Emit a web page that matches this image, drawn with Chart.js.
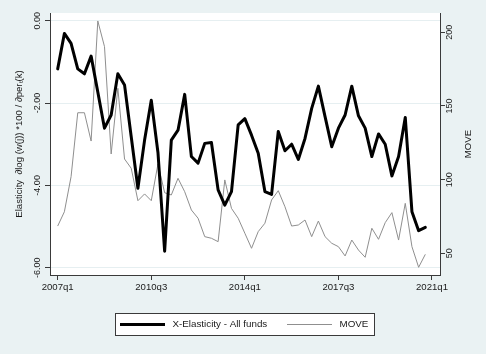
<!DOCTYPE html>
<html>
<head>
<meta charset="utf-8">
<script src="https://cdn.jsdelivr.net/npm/chart.js@4.4.0/dist/chart.umd.min.js"></script>
<style>
  body { margin: 0; background: #eaf2f3; }
  canvas { display: block; }
</style>
</head>
<body>
<canvas id="chart" width="486" height="354"></canvas>
<script>
// quarters, 2007q1 .. 2021q1 (last one is only an axis label)
const quarters = [
  '2007q1','2007q2','2007q3','2007q4','2008q1','2008q2','2008q3','2008q4',
  '2009q1','2009q2','2009q3','2009q4','2010q1','2010q2','2010q3','2010q4',
  '2011q1','2011q2','2011q3','2011q4','2012q1','2012q2','2012q3','2012q4',
  '2013q1','2013q2','2013q3','2013q4','2014q1','2014q2','2014q3','2014q4',
  '2015q1','2015q2','2015q3','2015q4','2016q1','2016q2','2016q3','2016q4',
  '2017q1','2017q2','2017q3','2017q4','2018q1','2018q2','2018q3','2018q4',
  '2019q1','2019q2','2019q3','2019q4','2020q1','2020q2','2020q3','2020q4',
  '2021q1'
];

const elasticity = [
  -1.17, -0.31, -0.55, -1.17, -1.29, -0.86, -1.73, -2.61, -2.29, -1.29,
  -1.56, -2.82, -4.07, -2.90, -1.93, -3.20, -5.60, -2.90, -2.66, -1.79,
  -3.30, -3.46, -2.98, -2.96, -4.11, -4.48, -4.15, -2.53, -2.38, -2.78,
  -3.22, -4.15, -4.22, -2.69, -3.16, -3.00, -3.37, -2.86, -2.13, -1.59,
  -2.33, -3.06, -2.61, -2.29, -1.59, -2.31, -2.61, -3.30, -2.75, -3.00,
  -3.77, -3.30, -2.35, -4.64, -5.10, -5.02
];

const move = [
  68.5, 78.2, 102.0, 145.4, 145.4, 126.2, 207.7, 190.3, 117.4, 162.0,
  114.0, 107.7, 85.7, 90.3, 85.7, 110.6, 91.1, 89.6, 100.9, 91.8,
  79.4, 73.8, 61.3, 60.2, 57.9, 99.8, 80.5, 73.8, 63.6, 53.4,
  64.7, 70.4, 86.2, 92.5, 81.6, 68.5, 69.2, 72.6, 61.3, 71.9,
  61.3, 56.8, 54.5, 48.2, 59.0, 52.2, 47.3, 67.0, 59.5, 70.8,
  77.6, 59.0, 83.9, 54.5, 40.5, 49.3
];

const xTicks = [0, 14, 28, 42, 56];
const leftTicks = [-6, -4, -2, 0];
const rightTicks = [50, 100, 150, 200];

const FONT = '"Liberation Sans", Arial, sans-serif';
const INK = '#1a1a1a';
const AXIS = '#3a3a3a';

function vtext(ctx, s, x, y) {
  ctx.save();
  ctx.translate(x, y);
  ctx.rotate(-Math.PI / 2);
  ctx.fillText(s, 0, 0);
  ctx.restore();
}

// stata-like frame: background, rotated y labels, titles and boxed legend
const stataLook = {
  id: 'stataLook',
  beforeDraw(chart) {
    const { ctx, chartArea: a } = chart;
    ctx.save();
    ctx.fillStyle = '#eaf2f3';
    ctx.fillRect(0, 0, chart.width, chart.height);
    ctx.fillStyle = '#ffffff';
    ctx.fillRect(a.left, a.top, a.right - a.left, a.bottom - a.top);
    ctx.restore();
  },
  afterDraw(chart) {
    const ctx = chart.ctx;
    const y = chart.scales.y, y1 = chart.scales.y1;
    ctx.save();
    ctx.fillStyle = INK;
    ctx.textAlign = 'center';
    ctx.textBaseline = 'middle';
    ctx.font = '9px ' + FONT;
    leftTicks.forEach(v => vtext(ctx, v.toFixed(2), 38, y.getPixelForValue(v)));
    rightTicks.forEach(v => vtext(ctx, String(v), 450, y1.getPixelForValue(v)));

    ctx.font = '9.6px ' + FONT;
    const mid = (chart.chartArea.top + chart.chartArea.bottom) / 2;
    vtext(ctx, 'Elasticity  \u2202log (w(j)) *100 / \u2202per\u209C(k)', 19, mid);
    vtext(ctx, 'MOVE', 468, mid);

    // legend
    const ds = chart.data.datasets;
    ctx.fillStyle = '#ffffff';
    ctx.fillRect(115, 313, 260, 23);
    ctx.strokeStyle = AXIS;
    ctx.lineWidth = 1;
    ctx.strokeRect(115.5, 313.5, 259, 22);
    const ly = 324.5;
    const items = [[120, 172.5], [287, 339.5]];
    items.forEach(([x0, tx], i) => {
      ctx.strokeStyle = ds[i].borderColor;
      ctx.lineWidth = ds[i].borderWidth;
      ctx.beginPath();
      ctx.moveTo(x0, ly);
      ctx.lineTo(x0 + 45, ly);
      ctx.stroke();
      ctx.fillStyle = INK;
      ctx.textAlign = 'left';
      ctx.font = '9.8px ' + FONT;
      ctx.fillText(ds[i].label, tx, ly);
    });
    ctx.restore();
  }
};

new Chart(document.getElementById('chart'), {
  type: 'line',
  data: {
    datasets: [
      {
        label: 'X-Elasticity - All funds',
        data: elasticity.map((v, i) => ({ x: i, y: v })),
        yAxisID: 'y',
        borderColor: '#000000',
        borderWidth: 3,
        borderJoinStyle: 'round',
        borderCapStyle: 'round',
        pointRadius: 0,
        tension: 0
      },
      {
        label: 'MOVE',
        data: move.map((v, i) => ({ x: i, y: v })),
        yAxisID: 'y1',
        borderColor: '#8f8f8f',
        borderWidth: 1,
        pointRadius: 0,
        tension: 0
      }
    ]
  },
  options: {
    responsive: false,
    animation: false,
    layout: { padding: { top: 13, left: 0, right: 0, bottom: 0 } },
    plugins: { legend: { display: false }, tooltip: { enabled: false } },
    scales: {
      x: {
        type: 'linear',
        min: -1.152,
        max: 57.197,
        afterBuildTicks: s => { s.ticks = xTicks.map(v => ({ value: v })); },
        afterFit: s => { s.height = 79; },
        ticks: {
          callback: v => quarters[v],
          color: INK,
          font: { family: FONT, size: 9.6 },
          padding: 2,
          maxRotation: 0,
          autoSkip: false
        },
        grid: { drawOnChartArea: false, tickLength: 5, tickColor: AXIS },
        border: { color: AXIS }
      },
      y: {
        position: 'left',
        min: -6.177,
        max: 0.187,
        afterBuildTicks: s => { s.ticks = leftTicks.map(v => ({ value: v })); },
        afterFit: s => { s.width = 50; },
        ticks: { display: false },
        grid: { color: '#e6eff1', tickLength: 5, tickColor: AXIS },
        border: { color: AXIS }
      },
      y1: {
        position: 'right',
        min: 35.27,
        max: 213.1,
        afterBuildTicks: s => { s.ticks = rightTicks.map(v => ({ value: v })); },
        afterFit: s => { s.width = 46; },
        ticks: { display: false },
        grid: { drawOnChartArea: false, tickLength: 5, tickColor: AXIS },
        border: { color: AXIS }
      }
    }
  },
  plugins: [stataLook]
});
</script>
</body>
</html>
